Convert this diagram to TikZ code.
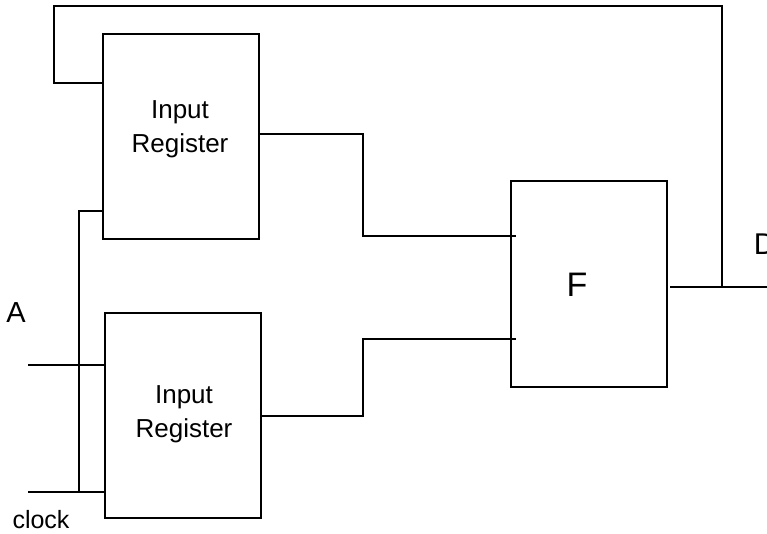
\documentclass[tikz,border=0pt]{standalone}
\usepackage{fontspec}
\setmainfont{Liberation Sans}
\begin{document}
\begin{tikzpicture}[x=1pt,y=-1pt,line width=1.6pt,
  box/.style={draw,anchor=north west,minimum width=156pt,minimum height=205pt,inner sep=0pt,outer sep=0pt},
  lbl/.style={inner sep=0pt,align=center,font=\fontsize{26}{34}\selectfont},
  sig/.style={inner sep=0pt}]
\useasboundingbox (0,0) rectangle (767,533);
\node[box] (r1) at (103,34) {};
\node[box] (r2) at (105,313) {};
\node[box,minimum height=206pt] (f) at (511,181) {};
\node[lbl] (t1) at (180,129) {Input\\Register};
\node[lbl] (t2) at (184,414) {Input\\Register};
\node[sig,font=\fontsize{34}{40}\selectfont] (tf) at (577,284.5) {F};
\node[sig,font=\fontsize{29}{34}\selectfont] (la) at (16,312.5) {A};
\node[sig,font=\fontsize{25}{30}\selectfont] (lc) at (41,519.5) {clock};
\node[sig,font=\fontsize{30}{36}\selectfont,anchor=west] (ld) at (753,244) {D};
% coordinates
\coordinate (j) at (722,287);
\coordinate (out) at (767,287);
\coordinate (tr) at (722,6);
\coordinate (tl) at (54,6);
\coordinate (fb) at (54,83);
\coordinate (ain) at (28,365);
\coordinate (clk) at (28,492);
\coordinate (cb) at (79,492);
\coordinate (ct) at (79,211);
\coordinate (m1) at (363,236);
\coordinate (m2) at (363,339);
% wires
\draw ([xshift=3pt]f.east |- j) -- (out);
\draw (j) -- (tr) -- (tl) -- (fb) -- (r1.west |- fb);
\draw (ain) -- (r2.west |- ain);
\draw (clk) -- (r2.west |- clk);
\draw (cb) -- (ct) -- (r1.west |- ct);
\draw (r1.east |- 0,134) -| (m1) -- ([xshift=5pt]f.west |- m1);
\draw (r2.east |- 0,416) -| (m2) -- ([xshift=5pt]f.west |- m2);
\end{tikzpicture}
\end{document}
